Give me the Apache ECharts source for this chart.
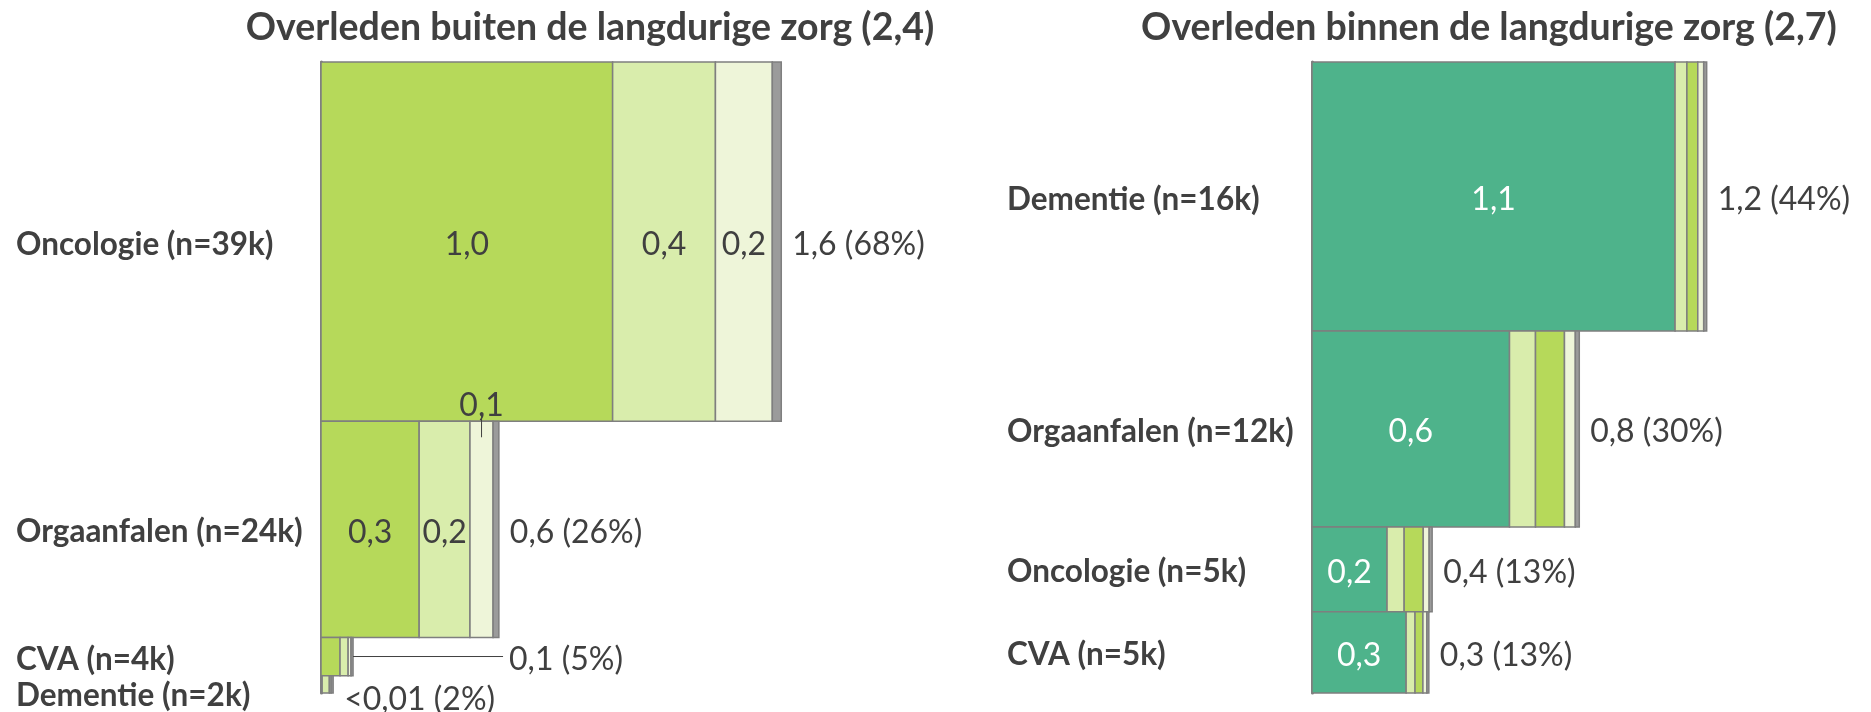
<!DOCTYPE html>
<html>
<head>
<meta charset="utf-8">
<script src="https://cdn.jsdelivr.net/npm/echarts@6/dist/echarts.min.js"></script>
<style>
  html, body { margin: 0; padding: 0; background: #fff; }
  #chart { width: 1871px; height: 712px; }
</style>
</head>
<body>
<div id="chart"></div>
<script>
// buiten de langdurige zorg (kosten in mld, n in duizenden)
const leftCategories = ['Oncologie (n=39k)', 'Orgaanfalen (n=24k)', 'CVA (n=4k)', 'Dementie (n=2k)'];
const leftN = [39.4, 23.7, 4.2, 1.9];
const leftGreen = [1.01, 0.34, 0.066, 0.004];
const leftLight = [0.356, 0.176, 0.028, 0.025];
const leftLightest = [0.197, 0.08, 0.01, 0.006];
const leftOther = [0.031, 0.02, 0.007, 0.007];
const leftGreenLabels = ['1,0', '0,3', '', ''];
const leftLightLabels = ['0,4', '0,2', '', ''];
const leftLightestLabels = ['0,2', '0,1', '', ''];
const leftTotals = ['1,6 (68%)', '0,6 (26%)', '0,1 (5%)', '<0,01 (2%)'];

// binnen de langdurige zorg
const rightCategories = ['Dementie (n=16k)', 'Orgaanfalen (n=12k)', 'Oncologie (n=5k)', 'CVA (n=5k)'];
const rightN = [16.2, 11.8, 5.1, 4.9];
const rightTeal = [1.103, 0.60, 0.228, 0.286];
const rightLight = [0.036, 0.079, 0.052, 0.027];
const rightGreen = [0.033, 0.088, 0.058, 0.024];
const rightLightest = [0.018, 0.033, 0.018, 0.012];
const rightOther = [0.009, 0.012, 0.009, 0.006];
const rightTealLabels = ['1,1', '0,6', '0,2', '0,3'];
const rightTotals = ['1,2 (44%)', '0,8 (30%)', '0,4 (13%)', '0,3 (13%)'];

const colors = {
  teal: '#4eb38b',
  green: '#b6d95a',
  light: '#d9edac',
  lightest: '#eef5d9',
  other: '#9b9b9b'
};
const textColor = '#404040';
const labelFont = '32px Lato';
const boldFont = 'bold 31.5px Lato';

// label tweaks (pixel offsets) per panel/row
const leftTweaks = {
  aboveLabels: { '1-2': true },
  total: { 2: { dx: 156, line: true }, 3: { dx: 11, dy: 12 } },
  cat: { 3: { dy: 9 } }
};
const rightTweaks = { aboveLabels: {}, total: {}, cat: {} };

function buildPanel(n, parts) {
  const data = [];
  const meta = [];
  const rows = [];
  let y = 0;
  n.forEach((h, i) => {
    let x = 0;
    parts.forEach((p, j) => {
      const v = p.values[i];
      data.push([x, x + v, y, y + h]);
      meta.push({ key: p.key, label: p.labels ? p.labels[i] : '', row: i, seg: j });
      x += v;
    });
    rows.push([x, y, y + h]);
    y += h;
  });
  return { data, meta, rows, maxY: y };
}

const left = buildPanel(leftN, [
  { key: 'green', values: leftGreen, labels: leftGreenLabels },
  { key: 'light', values: leftLight, labels: leftLightLabels },
  { key: 'lightest', values: leftLightest, labels: leftLightestLabels },
  { key: 'other', values: leftOther }
]);
const right = buildPanel(rightN, [
  { key: 'teal', values: rightTeal, labels: rightTealLabels },
  { key: 'light', values: rightLight },
  { key: 'green', values: rightGreen },
  { key: 'lightest', values: rightLightest },
  { key: 'other', values: rightOther }
]);

function segmentRenderer(panel, tweaks) {
  return function (params, api) {
    const m = panel.meta[params.dataIndex];
    const p0 = api.coord([api.value(0), api.value(2)]);
    const p1 = api.coord([api.value(1), api.value(3)]);
    const children = [{
      type: 'rect',
      shape: { x: p0[0], y: p0[1], width: p1[0] - p0[0], height: p1[1] - p0[1] },
      style: { fill: colors[m.key], stroke: '#7f7f7f', lineWidth: 1.5 }
    }];
    if (m.label) {
      const cx = (p0[0] + p1[0]) / 2;
      if (tweaks.aboveLabels[m.row + '-' + m.seg]) {
        children.push({
          type: 'text',
          style: { text: m.label, x: cx, y: p0[1] - 16, align: 'center', verticalAlign: 'middle', fill: textColor, font: labelFont }
        });
        children.push({
          type: 'line',
          shape: { x1: cx, y1: p0[1] - 6, x2: cx, y2: p0[1] + 16 },
          style: { stroke: '#404040', lineWidth: 1 }
        });
      } else {
        children.push({
          type: 'text',
          style: {
            text: m.label, x: cx, y: (p0[1] + p1[1]) / 2 + 3, align: 'center', verticalAlign: 'middle',
            fill: m.key === 'teal' ? '#fff' : textColor, font: labelFont
          }
        });
      }
    }
    return { type: 'group', children };
  };
}

function rowRenderer(panel, categories, totals, tweaks) {
  return function (params, api) {
    const i = params.dataIndex;
    const pEnd = api.coord([api.value(0), api.value(1)]);
    const pBot = api.coord([api.value(0), api.value(2)]);
    const cy = (pEnd[1] + pBot[1]) / 2 + 3;
    const t = tweaks.total[i] || {};
    const c = tweaks.cat[i] || {};
    const dx = t.dx != null ? t.dx : 11;
    const children = [
      {
        type: 'text',
        style: { text: categories[i], x: params.coordSys.x - 305, y: cy + (c.dy || 0), align: 'left', verticalAlign: 'middle', fill: textColor, font: boldFont }
      },
      {
        type: 'text',
        style: { text: totals[i], x: pEnd[0] + dx, y: cy + (t.dy || 0), align: 'left', verticalAlign: 'middle', fill: textColor, font: labelFont }
      }
    ];
    if (t.line) {
      children.push({
        type: 'line',
        shape: { x1: pEnd[0], y1: cy - 3, x2: pEnd[0] + dx - 6, y2: cy - 3 },
        style: { stroke: '#404040', lineWidth: 1 }
      });
    }
    return { type: 'group', children };
  };
}

const chart = echarts.init(document.getElementById('chart'));
chart.setOption({
  animation: false,
  title: [
    { text: 'Overleden buiten de langdurige zorg (2,4)', left: 585, top: 4, textAlign: 'center',
      textStyle: { fontFamily: 'Lato', fontWeight: 'bold', fontSize: 37.5, color: textColor } },
    { text: 'Overleden binnen de langdurige zorg (2,7)', left: 1484, top: 4, textAlign: 'center',
      textStyle: { fontFamily: 'Lato', fontWeight: 'bold', fontSize: 37.5, color: textColor } }
  ],
  grid: [
    { left: 321, top: 62, width: 462, height: 631 },
    { left: 1312, top: 62, width: 395, height: 631 }
  ],
  xAxis: [
    { type: 'value', gridIndex: 0, min: 0, max: 1.6, show: false },
    { type: 'value', gridIndex: 1, min: 0, max: 1.2, show: false }
  ],
  yAxis: [0, 1].map((g) => ({
    type: 'value', gridIndex: g, min: 0, max: g === 0 ? left.maxY : right.maxY, inverse: true,
    axisLine: { show: true, lineStyle: { color: '#808080', width: 3 } },
    axisTick: { show: false }, axisLabel: { show: false }, splitLine: { show: false }
  })),
  series: [
    { type: 'custom', xAxisIndex: 0, yAxisIndex: 0, data: left.data, renderItem: segmentRenderer(left, leftTweaks), z: 3 },
    { type: 'custom', xAxisIndex: 0, yAxisIndex: 0, data: left.rows, renderItem: rowRenderer(left, leftCategories, leftTotals, leftTweaks), z: 4 },
    { type: 'custom', xAxisIndex: 1, yAxisIndex: 1, data: right.data, renderItem: segmentRenderer(right, rightTweaks), z: 3 },
    { type: 'custom', xAxisIndex: 1, yAxisIndex: 1, data: right.rows, renderItem: rowRenderer(right, rightCategories, rightTotals, rightTweaks), z: 4 }
  ]
});
</script>
</body>
</html>
